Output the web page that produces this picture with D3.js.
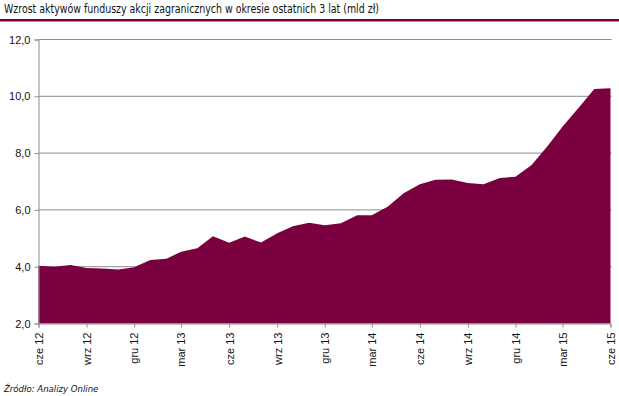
<!DOCTYPE html>
<html>
<head>
<meta charset="utf-8">
<script src="https://cdn.jsdelivr.net/npm/d3@7"></script>
<style>
  body { margin: 0; background: #fff; }
  svg { display: block; font-family: "DejaVu Sans Condensed", "Liberation Sans Narrow", sans-serif; font-stretch: condensed; }
</style>
</head>
<body>
<div id="chart"></div>
<script>
// aktywa funduszy akcji zagranicznych, mld zł, miesięcznie cze 2012 - cze 2015
var months = d3.range(37).map(function (i) { return new Date(2012, 5 + i, 1); });
var values = [4.03, 4.00, 4.06, 3.95, 3.94, 3.90, 3.98, 4.24, 4.28, 4.53, 4.65, 5.07, 4.84,
              5.06, 4.85, 5.18, 5.42, 5.55, 5.46, 5.53, 5.81, 5.81, 6.12, 6.59, 6.90,
              7.06, 7.07, 6.95, 6.90, 7.12, 7.17, 7.58, 8.26, 8.93, 9.60, 10.26, 10.28];
var tickLabels = ["cze 12", "wrz 12", "gru 12", "mar 13", "cze 13", "wrz 13", "gru 13",
                  "mar 14", "cze 14", "wrz 14", "gru 14", "mar 15", "cze 15"];
var yTicks = [2, 4, 6, 8, 10, 12];

var title = "Wzrost aktywów funduszy akcji zagranicznych w okresie ostatnich 3 lat (mld zł)";
var source = "Źródło: Analizy Online";

var width = 619, height = 396;
var m = { left: 38.5, right: 610.5, top: 39.5, bottom: 323.5 };
var fill = "#7a0040";
var grey = "#8c8c8c";

var svg = d3.select("#chart").append("svg")
    .attr("width", width)
    .attr("height", height);

var data = months.map(function (d, i) { return { date: d, value: values[i] }; });

var x = d3.scaleTime()
    .domain(d3.extent(months))
    .range([m.left, m.right]);
var y = d3.scaleLinear()
    .domain([2, 12])
    .range([m.bottom, m.top]);

// tytuł + kreska
svg.append("text")
    .attr("x", 4)
    .attr("y", 13)
    .attr("font-size", 12)
    .attr("textLength", 375)
    .attr("lengthAdjust", "spacingAndGlyphs")
    .attr("fill", "#111")
    .text(title);
svg.append("rect")
    .attr("x", 0)
    .attr("y", 19)
    .attr("width", width)
    .attr("height", 2.5)
    .attr("fill", fill);

// siatka
svg.append("g")
    .selectAll("line")
    .data(yTicks.slice(1))
    .join("line")
    .attr("x1", m.left)
    .attr("x2", m.right + 1)
    .attr("y1", function (d) { return y(d); })
    .attr("y2", function (d) { return y(d); })
    .attr("stroke", grey)
    .attr("stroke-width", 1);

var area = d3.area()
    .x(function (d) { return x(d.date); })
    .y0(y(2))
    .y1(function (d) { return y(d.value); });

svg.append("path")
    .datum(data)
    .attr("d", area)
    .attr("fill", fill);

// oś Y
var yAxis = svg.append("g")
    .attr("transform", "translate(" + m.left + ",0)")
    .call(d3.axisLeft(y)
        .tickValues(yTicks)
        .tickSize(4)
        .tickPadding(4)
        .tickFormat(function (d) { return d3.format(".1f")(d).replace(".", ","); }));

// oś X
var quarterTicks = months.filter(function (d, i) { return i % 3 === 0; });
var xAxis = svg.append("g")
    .attr("transform", "translate(0," + m.bottom + ")")
    .call(d3.axisBottom(x)
        .tickValues(quarterTicks)
        .tickSize(4)
        .tickFormat(function (d, i) { return tickLabels[i]; }));

xAxis.selectAll("text")
    .attr("transform", "rotate(-90)")
    .attr("text-anchor", "end")
    .attr("x", -9)
    .attr("y", 0)
    .attr("dy", "0.35em");

[yAxis, xAxis].forEach(function (g) {
    g.select(".domain").attr("stroke", grey);
    g.selectAll(".tick line").attr("stroke", grey);
    g.selectAll("text")
        .attr("fill", "#111")
        .attr("font-size", 11)
        .attr("font-family", null);
});

svg.append("text")
    .attr("x", 4)
    .attr("y", 392)
    .attr("font-size", 9.5)
    .attr("font-style", "italic")
    .attr("fill", "#111")
    .text(source);
</script>
</body>
</html>
